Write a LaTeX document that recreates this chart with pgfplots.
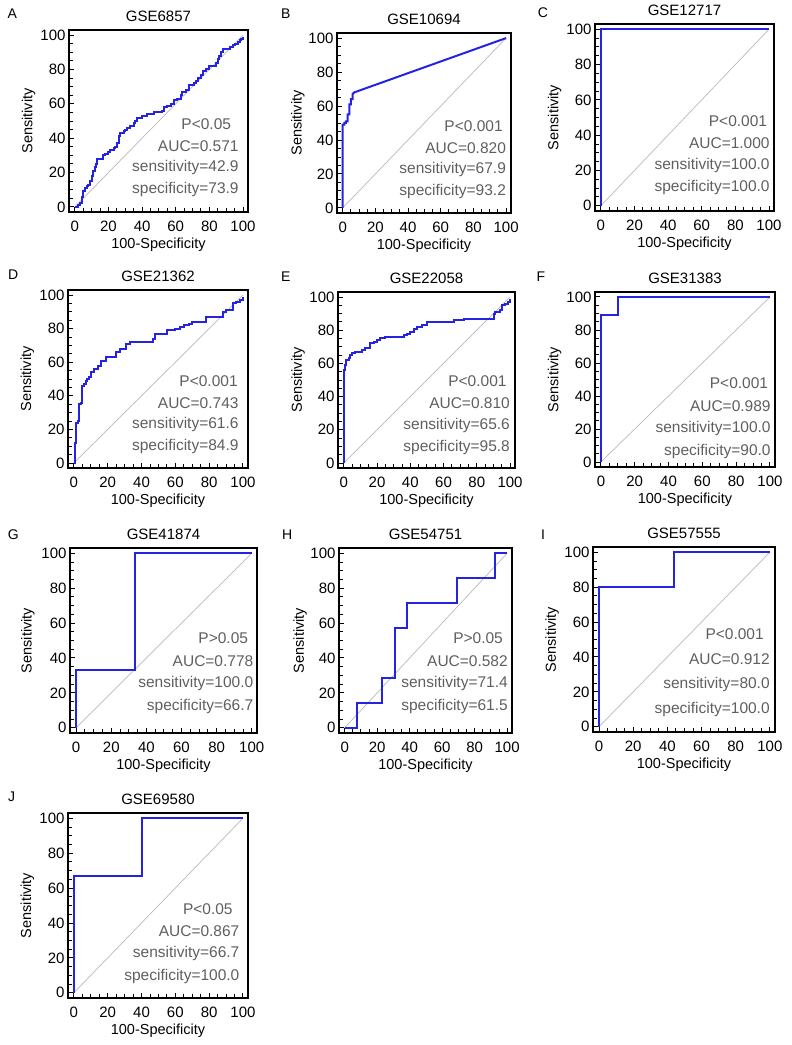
\documentclass[border=0pt]{standalone}
\usepackage{fontspec}
\setmainfont{Liberation Sans}
\usepackage{pgfplots}
\pgfplotsset{compat=1.18}
\definecolor{rocblue}{RGB}{35,35,225}
\definecolor{annot}{RGB}{95,95,95}
\definecolor{diag}{RGB}{185,185,185}
\newcommand{\fs}[1]{\fontsize{#1bp}{#1bp}\selectfont}
\pgfplotsset{
 roc/.style={
  scale only axis,
  xmin=-3.5, xmax=103, ymin=-3, ymax=103,
  xtick={0,20,...,100}, ytick={0,20,...,100},
  minor tick num=3,
  tick align=inside,
  tick pos=left,
  major tick length=5bp,
  minor tick length=3.5bp,
  every tick/.style={black, line width=0.9bp},
  axis line style={line width=1.3bp},
  /pgf/number format/assume math mode=true,
  tick label style={font=\fs{15}},
  xticklabel style={yshift=-6bp},
  xlabel={100-Specificity}, ylabel={Sensitivity},
  every axis x label/.style={at={(axis description cs:0.5,0)}, anchor=center, yshift=-33bp, font=\fs{14.5}},
  every axis y label/.style={at={(axis description cs:-0.225,0.5)}, anchor=center, rotate=90, font=\fs{14.5}},
  every axis title/.style={at={(axis description cs:0.5,1)}, anchor=south, yshift=4.5bp, font=\fs{15}},
  clip=false,
 },
 curve/.style={rocblue, line width=2bp},
}
% #1 xP, #2 x, #3 y0, #4 spacing(bp), #5 P, #6 AUC, #7 sens, #8 spec
\newcommand{\annot}[8]{%
 \node[anchor=east, text=annot, font=\fs{15.5}, inner sep=0pt] at (axis cs:#1,#3) {#5};
 \node[anchor=east, text=annot, font=\fs{15.5}, inner sep=0pt, yshift=-#4] at (axis cs:#2,#3) {#6};
 \node[anchor=east, text=annot, font=\fs{15.5}, inner sep=0pt, yshift=-2*#4] at (axis cs:#2,#3) {#7};
 \node[anchor=east, text=annot, font=\fs{15.5}, inner sep=0pt, yshift=-3*#4] at (axis cs:#2,#3) {#8};
}
\newcommand{\diagline}{\addplot[diag, line width=0.7bp] coordinates {(0,0) (100,100)};}
\begin{document}
\begin{tikzpicture}
\path[use as bounding box] (0,0) rectangle (792bp,1045bp);

% A
\begin{axis}[roc, at={(69bp,833bp)}, width=179bp, height=182bp, title={GSE6857}]
\diagline
\addplot[curve, const plot] coordinates {(0,0)(2,1)(3,2)(4,4)(4.5,6)(5,9)(6,11)(7,12)(8,13)(9,15)(10,18)(10.5,20)(11,21)(12,23)(12.5,25)(13,28)(16,28)(17,30)(18,31)(20,32)(21,33)(23,34)(24,35)(25,37)(26,41)(27,43)(29,44)(30,45)(31,46)(33,47)(35,49)(36,50)(37,52)(40,53)(42,53)(43,54)(47,55)(50,55)(52,56)(53,58)(55,59)(57,60)(59,62)(61,63)(63,65)(64,67)(66,68)(68,71)(71,72)(72,73)(73,75)(75,77)(76,79)(78,80)(80,82)(83,82)(84,84)(85,86)(86,88)(87,90)(88,92)(90,92)(92,93)(94,94)(95,95)(97,96)(98,97)(99,98)(100,99)};
\annot{93}{97.5}{48}{21.7bp}{P<0.05}{AUC=0.571}{sensitivity=42.9}{specificity=73.9}
\end{axis}

% B
\begin{axis}[roc, at={(337bp,832bp)}, width=174bp, height=180bp, title={GSE10694}]
\diagline
\addplot[curve] coordinates {(0,0)(0,49)(1,49)(1,50)(2,50)(2,51)(3,51)(3,55)(4,55)(4,61)(5,61)(5,64)(6,64)(6,67)(7,68)(100,100)};
\annot{98}{100}{48}{21.7bp}{P<0.001}{AUC=0.820}{sensitivity=67.9}{specificity=93.2}
\end{axis}

% C
\begin{axis}[roc, at={(595bp,834bp)}, width=179bp, height=187bp, title={GSE12717}]
\diagline
\addplot[curve] coordinates {(0,0)(0,100)(100,100)};
\annot{99}{100.5}{48}{22.3bp}{P<0.001}{AUC=1.000}{sensitivity=100.0}{specificity=100.0}
\end{axis}

% D
\begin{axis}[roc, at={(68bp,577bp)}, width=180bp, height=178bp, title={GSE21362}]
\diagline
\addplot[curve, const plot] coordinates {(0,0)(0.5,12)(1,14)(1.5,24)(2.5,25)(3,35)(4,36)(4.5,46)(6,47)(7,49)(8,50)(9,51)(10,54)(12,56)(14,58)(16,61)(18,61)(19,63)(23,63)(25,66)(27,68)(29,68)(31,71)(33,72)(45,72)(47,74)(48,77)(53,77)(55,79)(58,79)(60,80)(63,81)(65,82)(68,83)(70,84)(77,84)(78,87)(87,87)(88,90)(90,91)(92,91)(94,95)(96,96)(98,97)(100,99)};
\annot{97}{97.5}{49}{22bp}{P<0.001}{AUC=0.743}{sensitivity=61.6}{specificity=84.9}
\end{axis}

% E
\begin{axis}[roc, at={(338bp,577bp)}, width=177bp, height=176bp, title={GSE22058}]
\diagline
\addplot[curve, const plot] coordinates {(0,0)(0,56)(0.5,57)(1,59)(1.5,62)(3,63)(4,65)(5,66)(7,67)(9,67)(11,68)(13,69)(15,69)(16,72)(18,73)(20,74)(22,75)(25,76)(28,76)(33,76)(36,77)(38,78)(40,79)(42,81)(44,82)(47,83)(50,85)(55,85)(65,85)(66,86)(72,86)(72.5,87)(90,87)(90.5,90)(91,91)(94,92)(95,95)(97,96)(99,97)(100,99)};
\annot{98}{100}{49}{22bp}{P<0.001}{AUC=0.810}{sensitivity=65.6}{specificity=95.8}
\end{axis}

% F
\begin{axis}[roc, at={(595bp,578bp)}, width=180bp, height=175bp, title={GSE31383}]
\diagline
\addplot[curve] coordinates {(0,0)(0,89)(10,89)(10,100)(100,100)};
\annot{99}{100.5}{47.5}{22.5bp}{P<0.001}{AUC=0.989}{sensitivity=100.0}{specificity=90.0}
\end{axis}

% G
\begin{axis}[roc, at={(70bp,312bp)}, width=187bp, height=185bp, title={GSE41874}]
\diagline
\addplot[curve] coordinates {(0,0)(0,33.3)(33.3,33.3)(33.3,100)(100,100)};
\annot{98}{101}{51.5}{23bp}{P>0.05}{AUC=0.778}{sensitivity=100.0}{specificity=66.7}
\end{axis}

% H
\begin{axis}[roc, at={(339bp,312bp)}, width=173bp, height=185bp, title={GSE54751}]
\diagline
\addplot[curve] coordinates {(0,0)(7.7,0)(7.7,14.3)(23.1,14.3)(23.1,28.6)(30.8,28.6)(30.8,57.1)(38.5,57.1)(38.5,71.4)(69.2,71.4)(69.2,85.7)(92.3,85.7)(92.3,100)(100,100)};
\annot{97.5}{100.5}{51.5}{23bp}{P>0.05}{AUC=0.582}{sensitivity=71.4}{specificity=61.5}
\end{axis}

% I
\begin{axis}[roc, at={(593bp,313bp)}, width=182bp, height=185bp, title={GSE57555}]
\diagline
\addplot[curve] coordinates {(0,0)(0,80)(44,80)(44,100)(100,100)};
\annot{96.5}{100}{53}{25bp}{P<0.001}{AUC=0.912}{sensitivity=80.0}{specificity=100.0}
\end{axis}

% J
\begin{axis}[roc, at={(68bp,47bp)}, width=180bp, height=185bp, title={GSE69580}]
\diagline
\addplot[curve] coordinates {(0,0)(0,66.7)(40,66.7)(40,100)(100,100)};
\annot{94}{98}{48}{22.5bp}{P<0.05}{AUC=0.867}{sensitivity=66.7}{specificity=100.0}
\end{axis}

\foreach \l/\x/\y in {A/12.3/13.3, B/285.7/13.3, C/543/12.7, D/13.3/275, E/285.7/276.7, F/541/276.7, G/13.3/535, H/287.3/535, I/543/535, J/11.7/796.7}
  \node[font=\fs{14}, anchor=center, inner sep=0pt] at (\x bp, 1045bp-\y bp) {\l};
\end{tikzpicture}
\end{document}
